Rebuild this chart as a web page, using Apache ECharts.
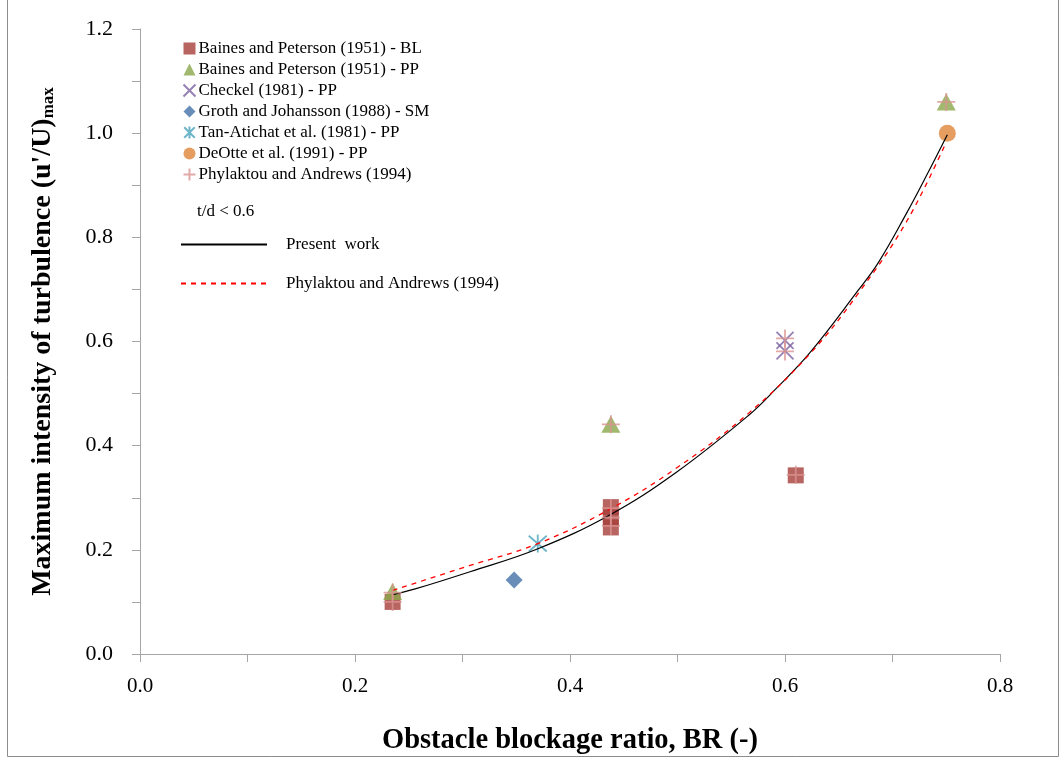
<!DOCTYPE html>
<html><head><meta charset="utf-8">
<script src="https://cdn.jsdelivr.net/npm/echarts@6/dist/echarts.min.js"></script>
<style>html,body{margin:0;padding:0;background:#fff}#c{width:1064px;height:760px}</style>
</head><body><div id="c"></div>
<script>
// ---- data ----
const xTicks = [0.0, 0.2, 0.4, 0.6, 0.8];
const yTicks = [0.0, 0.2, 0.4, 0.6, 0.8, 1.0, 1.2];
const bainesBL = [[0.235,0.100],[0.438,0.282],[0.438,0.262],[0.438,0.243],[0.610,0.343]];
const bainesPP = [[0.235,0.120],[0.438,0.441],[0.750,1.060]];
const checkel = [[0.600,0.602],[0.600,0.582]];
const groth = [[0.348,0.142]];
const tanAtichat = [[0.370,0.212]];
const deotte = [[0.751,1.000]];
const phylaktouPts = [[0.235,0.100],[0.235,0.118],[0.438,0.441],[0.438,0.280],[0.438,0.262],[0.438,0.246],[0.600,0.606],[0.600,0.581],[0.610,0.344],[0.750,1.060]];
const presentWork = [[0.235,0.114],[0.256,0.125],[0.307,0.158],[0.369,0.201],[0.437,0.267],[0.499,0.349],[0.566,0.458],[0.591,0.508],[0.623,0.578],[0.668,0.698],[0.687,0.752],[0.713,0.846],[0.732,0.920],[0.751,0.997]];
const phylaktouFit = [[0.235,0.122],[0.307,0.170],[0.369,0.211],[0.437,0.278],[0.499,0.357],[0.566,0.462],[0.623,0.576],[0.668,0.692],[0.713,0.830],[0.750,0.983]];

const serif = '"Liberation Serif", "Times New Roman", serif';
const axisColor = '#A6A6A6';
const names = ['Baines and Peterson (1951) - BL','Baines and Peterson (1951) - PP','Checkel (1981) - PP','Groth and Johansson (1988) - SM','Tan-Atichat et al. (1981) - PP','DeOtte et al. (1991) - PP','Phylaktou and Andrews (1994)'];
const lineNames = ['Present  work','Phylaktou and Andrews (1994) '];

const chart = echarts.init(document.getElementById('c'), null, {renderer:'canvas'});
chart.setOption({
  animation:false,
  backgroundColor:'#fff',
  grid:{left:140, top:29, right:64, bottom:105},
  xAxis:{type:'value', min:0, max:0.8, interval:0.2,
    axisLine:{show:true, lineStyle:{color:axisColor, width:1}},
    axisTick:{show:true, length:8, lineStyle:{color:axisColor}},
    minorTick:{show:true, splitNumber:2, length:8, lineStyle:{color:axisColor}},
    splitLine:{show:false},
    axisLabel:{margin:22, fontFamily:serif, fontSize:21, color:'#000', formatter:v=>v.toFixed(1)},
    name:'Obstacle blockage ratio, BR (-)', nameLocation:'middle', nameGap:72,
    nameTextStyle:{fontFamily:serif, fontSize:28.5, fontWeight:'bold', color:'#000'}},
  yAxis:{type:'value', min:0, max:1.2, interval:0.2,
    axisLine:{show:true, lineStyle:{color:axisColor, width:1}},
    axisTick:{show:true, length:8, lineStyle:{color:axisColor}},
    minorTick:{show:true, splitNumber:2, length:8, lineStyle:{color:axisColor}},
    splitLine:{show:false},
    axisLabel:{margin:27, fontFamily:serif, fontSize:22, color:'#000', formatter:v=>v.toFixed(1)},
    name:'{a|Maximum intensity of turbulence (u\'/U)}{b|max}', nameLocation:'middle', nameGap:83, nameRotate:90,
    nameTextStyle:{rich:{a:{fontFamily:serif, fontSize:28, fontWeight:'bold', color:'#000'},
                         b:{fontFamily:serif, fontSize:17, fontWeight:'bold', color:'#000', verticalAlign:'bottom', padding:[12,0,0,0]}}}},
  legend:[{
    orient:'vertical', left:181, top:40, padding:0, itemWidth:12, itemHeight:12, itemGap:4,
    data:names, textStyle:{fontFamily:serif, fontSize:17, lineHeight:17, color:'#000', padding:[0,0,0,-2]}
  },{
    orient:'vertical', left:180, top:236, padding:0, itemWidth:86, itemHeight:14, itemGap:22,
    data:lineNames, textStyle:{fontFamily:serif, fontSize:17, color:'#000', padding:[0,0,0,14]}
  }],
  graphic:[
    {type:'text', left:197, top:203, style:{text:'t/d < 0.6', font:'17px '+serif, fill:'#000'}},
    {type:'rect', shape:{x:7.5, y:-1, width:1051, height:757.5}, style:{fill:'none', stroke:'#8c8c8c', lineWidth:1}, silent:true}
  ],
  series:[
    {name:names[0], type:'scatter', data:bainesBL, symbol:'rect', symbolSize:16, itemStyle:{color:'#A63F3B'}},
    {name:names[1], type:'scatter', data:bainesPP, symbol:'triangle', symbolSize:[19,17], itemStyle:{color:'#8AA84A'}},
    {name:names[2], type:'scatter', data:checkel, symbol:'path://M-7,-7L7,7M-7,7L7,-7', symbolSize:17, itemStyle:{color:'none', borderColor:'#7A62A0', borderWidth:1.8}},
    {name:names[3], type:'scatter', data:groth, symbol:'diamond', symbolSize:17, itemStyle:{color:'#4470A8'}},
    {name:names[4], type:'scatter', data:tanAtichat, symbol:'path://M0,-8L0,8M-7,-7L7,7M-7,7L7,-7', symbolSize:18, itemStyle:{color:'none', borderColor:'#4AA3BB', borderWidth:1.8}},
    {name:names[5], type:'scatter', data:deotte, symbol:'circle', symbolSize:17, itemStyle:{color:'#DE8538'}},
    {name:lineNames[0], type:'line', data:presentWork, smooth:0.4, symbol:'none', itemStyle:{color:'rgba(0,0,0,0)', borderWidth:0}, lineStyle:{color:'#000', width:1.2}, z:3},
    {name:lineNames[1], type:'line', data:phylaktouFit, smooth:0.4, symbol:'none', itemStyle:{color:'rgba(0,0,0,0)', borderWidth:0}, lineStyle:{color:'#FF0000', width:1.3, type:[5,5]}, z:3},
    {name:names[6], type:'scatter', data:phylaktouPts, symbol:'path://M0,-8L0,8M-8,0L8,0', symbolSize:18, itemStyle:{color:'none', borderColor:'#D99391', borderWidth:1.8}, z:4}
  ]
});
</script></body></html>
